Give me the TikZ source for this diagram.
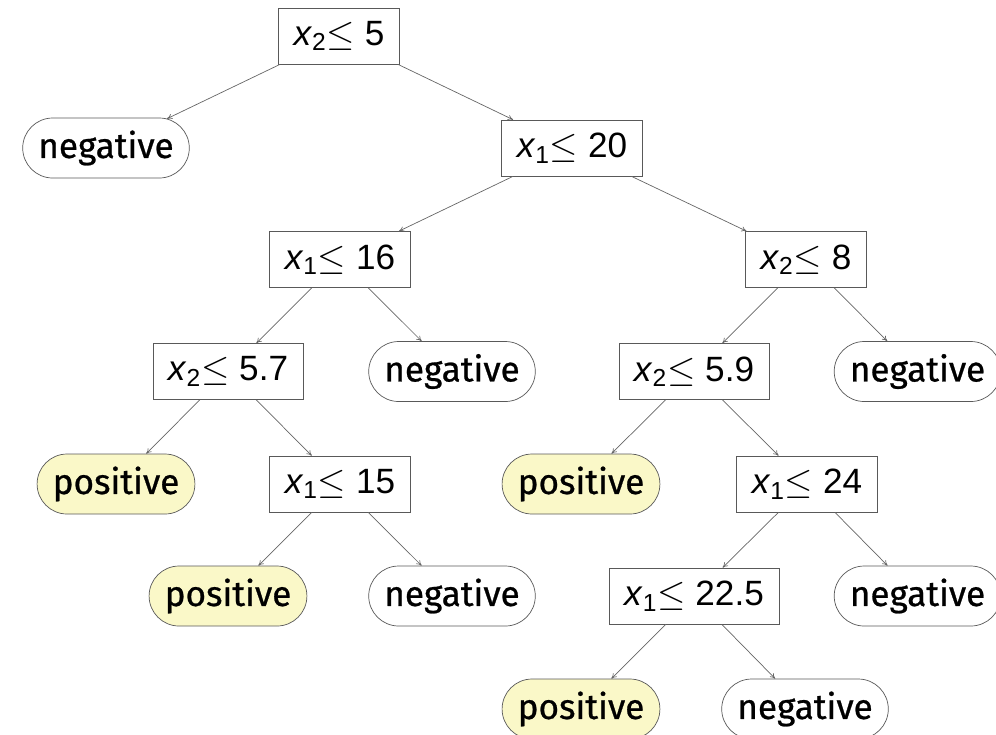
\documentclass[tikz,border=0pt]{standalone}
\usepackage{fontspec}
\setmainfont{Fira Sans}
\newfontfamily\leaffont{Fira Sans}[FakeBold=0.7]
\newfontfamily\condfont{Liberation Sans}
\usepackage{xcolor}
\usepackage{tikz}
\usetikzlibrary{shapes.misc, arrows.meta, positioning}

\definecolor{posfill}{RGB}{250,248,200}
\newcommand{\xle}[2]{\textit{x}\textsubscript{#1}$\leq$ #2}

\begin{document}
\begin{tikzpicture}[
  cond/.style={rectangle, draw=gray!70!black, minimum height=1.12cm,
    inner xsep=0.3cm, font=\condfont\fontsize{20}{24}\selectfont},
  leaf/.style={rounded rectangle, draw=gray!70!black, minimum height=1.2cm,
    inner xsep=0.2cm, font=\leaffont\fontsize{20}{24}\selectfont},
  posleaf/.style={leaf, fill=posfill},
  negleaf/.style={leaf, fill=white},
  edge/.style={-{To[length=3pt, width=3pt]}, gray!80!black, line width=0.4pt},
]
\clip (0,0) rectangle (19.92,-14.68);

% Root
\node[cond] (root) at (6.78,-0.72) {\xle{2}{5}};

% Level 1
\node[negleaf] (negA) at (2.12,-2.96) {negative};
\node[cond] (c20) at (11.44,-2.96) {\xle{1}{20}};

% Level 2
\node[cond] (c16) at (6.80,-5.19) {\xle{1}{16}};
\node[cond] (c8) at (16.12,-5.19) {\xle{2}{8}};

% Level 3
\node[cond] (c57) at (4.56,-7.43) {\xle{2}{5.7}};
\node[negleaf] (negB) at (9.04,-7.43) {negative};
\node[cond] (c59) at (13.88,-7.43) {\xle{2}{5.9}};
\node[negleaf] (negC) at (18.35,-7.43) {negative};

% Level 4
\node[posleaf] (posA) at (2.32,-9.68) {positive};
\node[cond] (c15) at (6.80,-9.68) {\xle{1}{15}};
\node[posleaf] (posB) at (11.62,-9.68) {positive};
\node[cond] (c24) at (16.14,-9.68) {\xle{1}{24}};

% Level 5
\node[posleaf] (posC) at (4.56,-11.92) {positive};
\node[negleaf] (negD) at (9.04,-11.92) {negative};
\node[cond] (c225) at (13.88,-11.92) {\xle{1}{22.5}};
\node[negleaf] (negE) at (18.35,-11.92) {negative};

% Level 6
\node[posleaf] (posD) at (11.62,-14.18) {positive};
\node[negleaf] (negF) at (16.10,-14.18) {negative};

% Edges
\draw[edge] (root) -- (negA);
\draw[edge] (root) -- (c20);
\draw[edge] (c20) -- (c16);
\draw[edge] (c20) -- (c8);
\draw[edge] (c16) -- (c57);
\draw[edge] (c16) -- (negB);
\draw[edge] (c8) -- (c59);
\draw[edge] (c8) -- (negC);
\draw[edge] (c57) -- (posA);
\draw[edge] (c57) -- (c15);
\draw[edge] (c59) -- (posB);
\draw[edge] (c59) -- (c24);
\draw[edge] (c15) -- (posC);
\draw[edge] (c15) -- (negD);
\draw[edge] (c24) -- (c225);
\draw[edge] (c24) -- (negE);
\draw[edge] (c225) -- (posD);
\draw[edge] (c225) -- (negF);

\end{tikzpicture}
\end{document}
